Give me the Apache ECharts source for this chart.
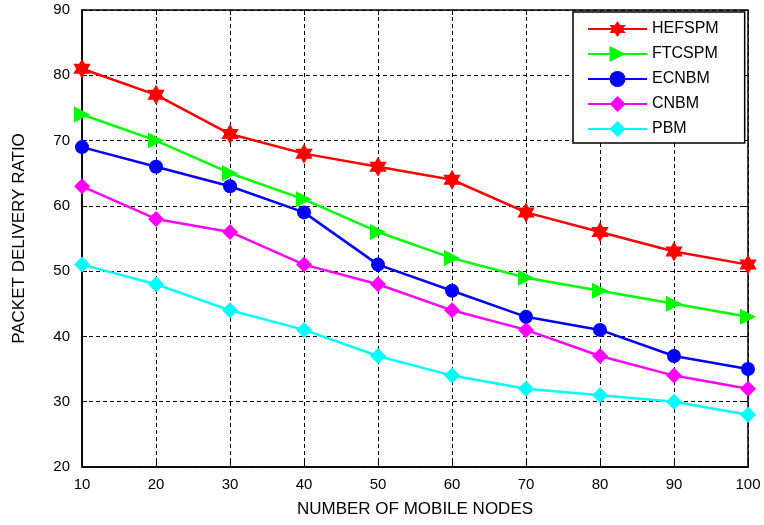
<!DOCTYPE html>
<html><head><meta charset="utf-8">
<script src="https://cdn.jsdelivr.net/npm/echarts@6/dist/echarts.min.js"></script>
<style>html,body{margin:0;padding:0;background:#fff}#c{width:764px;height:525px}</style>
</head><body><div id="c"></div>
<script>
var nodes = [10, 20, 30, 40, 50, 60, 70, 80, 90, 100];
var hefspm = [81, 77, 71, 68, 66, 64, 59, 56, 53, 51];
var ftcspm = [74, 70, 65, 61, 56, 52, 49, 47, 45, 43];
var ecnbm  = [69, 66, 63, 59, 51, 47, 43, 41, 37, 35];
var cnbm   = [63, 58, 56, 51, 48, 44, 41, 37, 34, 32];
var pbm    = [51, 48, 44, 41, 37, 34, 32, 31, 30, 28];
var names = ['HEFSPM', 'FTCSPM', 'ECNBM', 'CNBM', 'PBM'];
var colors = ['#ff0000', '#00ff00', '#0000ff', '#ff00ff', '#00ffff'];

var star = 'path://M100,0 L128.9,50 L186.6,50 L157.7,100 L186.6,150 L128.9,150 L100,200 L71.1,150 L13.4,150 L42.3,100 L13.4,50 L71.1,50 Z';
var symbols = [star, 'triangle', 'circle', 'diamond', 'diamond'];
var sizes = [20, 16, 14, 16, 16];
var rotates = [0, -90, 0, 0, 0];
var seriesData = [hefspm, ftcspm, ecnbm, cnbm, pbm];

function pairs(arr){ return nodes.map(function(x,i){ return [x, arr[i]]; }); }

var font = 'Liberation Sans, Arial, sans-serif';
var chart = echarts.init(document.getElementById('c'));
chart.setOption({
  animation: false,
  backgroundColor: '#fff',
  grid: {left: 82, right: 16, top: 10, bottom: 58, show: true, borderColor: '#000', borderWidth: 1.5, backgroundColor: '#fff'},
  legend: {
    orient: 'vertical', left: 573, top: 12,
    data: names,
    itemWidth: 59, itemHeight: 20, itemGap: 9,
    padding: [9, 26, 6, 14],
    backgroundColor: '#fff', borderColor: '#000', borderWidth: 1.5,
    textStyle: {fontFamily: font, fontSize: 16, color: '#000'}
  },
  xAxis: [{
    type: 'value', min: 10, max: 100, interval: 10,
    name: 'NUMBER OF MOBILE NODES', nameLocation: 'middle', nameGap: 34,
    nameTextStyle: {fontFamily: font, fontSize: 17, color: '#000'},
    axisLine: {lineStyle: {color: '#000', width: 1.5}},
    axisTick: {inside: true, length: 5, lineStyle: {color: '#000'}},
    axisLabel: {fontFamily: font, fontSize: 15, color: '#000', margin: 10},
    splitLine: {show: true, lineStyle: {color: '#000', type: [4, 3], width: 1}}
  }, {
    type: 'value', position: 'top', min: 10, max: 100, interval: 10,
    axisLine: {show: false},
    axisTick: {inside: true, length: 5, lineStyle: {color: '#000'}},
    axisLabel: {show: false}, splitLine: {show: false}
  }],
  yAxis: [{
    type: 'value', min: 20, max: 90, interval: 10,
    name: 'PACKET DELIVERY RATIO', nameLocation: 'middle', nameGap: 54,
    nameTextStyle: {fontFamily: font, fontSize: 17, color: '#000'},
    axisLine: {show: true, lineStyle: {color: '#000', width: 1.5}},
    axisTick: {show: true, inside: true, length: 5, lineStyle: {color: '#000'}},
    axisLabel: {fontFamily: font, fontSize: 15, color: '#000', margin: 12},
    splitLine: {show: true, lineStyle: {color: '#000', type: [4, 3], width: 1}}
  }, {
    type: 'value', position: 'right', min: 20, max: 90, interval: 10,
    axisLine: {show: false},
    axisTick: {show: true, inside: true, length: 5, lineStyle: {color: '#000'}},
    axisLabel: {show: false}, splitLine: {show: false}
  }],
  series: names.map(function(n, i){
    return {
      name: n, type: 'line', data: pairs(seriesData[i]),
      symbol: symbols[i], symbolSize: sizes[i], symbolRotate: rotates[i], symbolKeepAspect: true,
      showAllSymbol: true,
      lineStyle: {color: colors[i], width: 2.5},
      itemStyle: {color: colors[i], borderWidth: 0},
      z: 10 - i
    };
  })
});
</script></body></html>
